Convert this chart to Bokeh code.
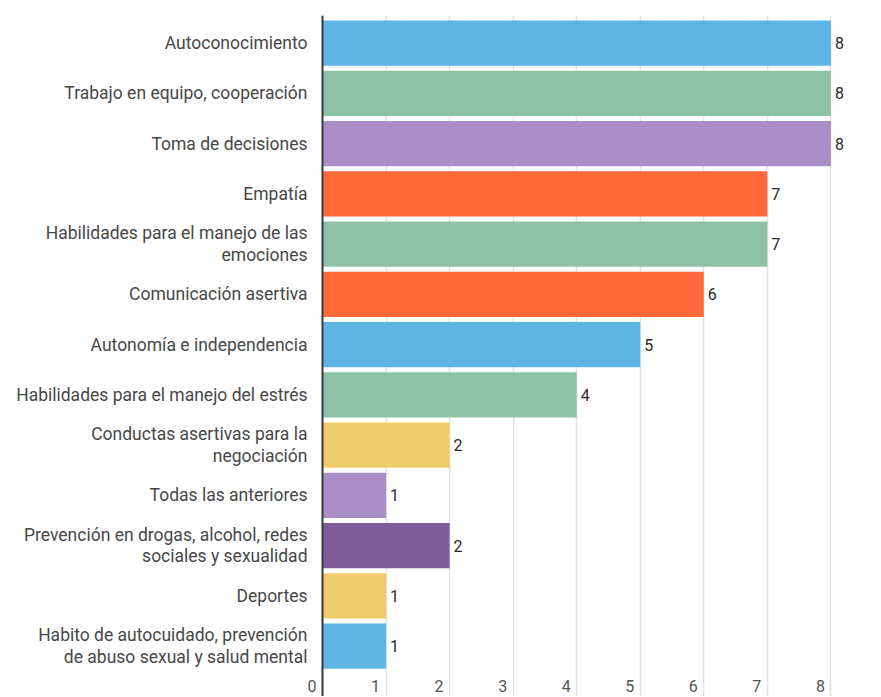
from bokeh.plotting import figure
from bokeh.models import ColumnDataSource, Range1d, Span, FixedTicker
from bokeh.core.properties import value
from bokeh.embed import file_html
from bokeh.resources import INLINE

categories = [
    "Autoconocimiento",
    "Trabajo en equipo, cooperación",
    "Toma de decisiones",
    "Empatía",
    "Habilidades para el manejo de las\nemociones",
    "Comunicación asertiva",
    "Autonomía e independencia",
    "Habilidades para el manejo del estrés",
    "Conductas asertivas para la\nnegociación",
    "Todas las anteriores",
    "Prevención en drogas, alcohol, redes\nsociales y sexualidad",
    "Deportes",
    "Habito de autocuidado, prevención\nde abuso sexual y salud mental",
]
values = [8, 8, 8, 7, 7, 6, 5, 4, 2, 1, 2, 1, 1]
bar_colors = [
    "#5EB5E4", "#8EC2A7", "#AA8FC7", "#FF693A", "#8EC2A7", "#FF693A", "#5EB5E4",
    "#8EC2A7", "#F0CB6A", "#AA8FC7", "#7E5C98", "#F0CB6A", "#5EB5E4",
]
x_ticks = [0, 1, 2, 3, 4, 5, 6, 7, 8]

W, H = 880, 696
BT = 15
AXIS_PX = 322
px_per_unit = 63.55
pitch = 50.25
frame_h = H - BT
y_top = -0.5 - 2.4 / pitch
y_bot = y_top + frame_h / pitch

ys = list(range(len(categories)))
src = ColumnDataSource(dict(y=ys, value=values, color=bar_colors, cat=categories,
                            vtxt=[str(v) for v in values], zero=[0] * len(ys)))

p = figure(width=W, height=H, output_backend="svg", toolbar_location=None,
           x_range=Range1d(-AXIS_PX / px_per_unit, (W - AXIS_PX) / px_per_unit),
           y_range=Range1d(y_bot, y_top),
           min_border_left=0, min_border_right=0, min_border_top=BT, min_border_bottom=0)
p.outline_line_color = None
p.background_fill_color = "white"
p.border_fill_color = "white"
p.xaxis.visible = False
p.yaxis.visible = False
p.ygrid.visible = False
p.xgrid.ticker = FixedTicker(ticks=x_ticks + [9])
p.xgrid.grid_line_color = "#E3E3E3"
p.xgrid.grid_line_width = 1.5

p.hbar(y="y", left=0, right="value", height=0.9, color="color", line_color=None, source=src)

p.add_layout(Span(location=0, dimension="height", line_color="#3A3A3A", line_width=2))

p.text(x="zero", y="y", text="cat", source=src, x_offset=-15,
       text_align="right", text_baseline="middle",
       text_font=value("Roboto"), text_font_size="17.5px", text_color="#474747",
       text_line_height=1.07)
p.text(x="value", y="y", text="vtxt", source=src, x_offset=4,
       text_align="left", text_baseline="middle",
       text_font=value("Roboto"), text_font_size="16px", text_color="#2A2A2A")

tsrc = ColumnDataSource(dict(x=x_ticks, y=[y_bot - 5 / pitch] * len(x_ticks),
                             t=[str(t) for t in x_ticks]))
p.text(x="x", y="y", text="t", source=tsrc, x_offset=-6,
       text_align="right", text_baseline="bottom",
       text_font=value("Roboto"), text_font_size="16px", text_color="#555555")

open("out.html", "w").write(file_html(p, INLINE))
